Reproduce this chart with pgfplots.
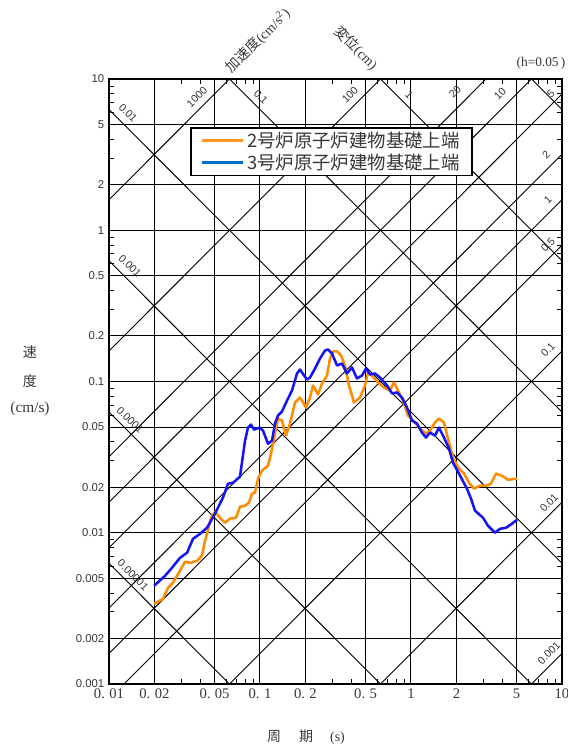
\documentclass[border=0pt]{standalone}
\usepackage{fontspec}
\setmainfont{Liberation Serif}
\newfontfamily\cjk{Noto Sans CJK JP}
\newfontfamily\lsans{Liberation Sans}
\usepackage{pgfplots}
\pgfplotsset{compat=1.18}
\definecolor{orng}{RGB}{255,140,0}
\definecolor{blu}{RGB}{20,20,245}
\definecolor{lorng}{RGB}{255,150,40}
\definecolor{lblu}{RGB}{0,110,200}
\definecolor{txt}{RGB}{55,55,55}
\begin{document}
\begin{tikzpicture}
\begin{loglogaxis}[
  scale only axis, width=339.75pt, height=453.75pt,
  xmin=0.01, xmax=10, ymin=0.001, ymax=10,
  clip mode=individual,
  xtick={0.01,0.02,0.05,0.1,0.2,0.5,1,2,5,10},
  xticklabels={0.\hspace{0.3em}01,0.\hspace{0.3em}02,0.\hspace{0.3em}05,0.\hspace{0.3em}1,0.\hspace{0.3em}2,0.\hspace{0.3em}5,1,2,5,10},
  minor xtick={0.03,0.04,0.06,0.07,0.08,0.09,0.3,0.4,0.6,0.7,0.8,0.9,3,4,6,7,8,9},
  ytick={0.001,0.002,0.005,0.01,0.02,0.05,0.1,0.2,0.5,1,2,5,10},
  yticklabels={0.001,0.002,0.005,0.01,0.02,0.05,0.1,0.2,0.5,1,2,5,10},
  minor ytick={0.003,0.004,0.006,0.007,0.008,0.009,0.03,0.04,0.06,0.07,0.08,0.09,0.3,0.4,0.6,0.7,0.8,0.9,3,4,6,7,8,9},
  major tick length=0pt, minor tick length=4pt, tick align=inside,
  tick style={black, line width=0.6pt},
  grid=major, major grid style={black, line width=0.75pt},
  axis line style={black, line width=1.1pt},
  xticklabel style={font=\fontsize{11}{12}\selectfont, text=txt},
  yticklabel style={font=\lsans\fontsize{8.5}{10}\selectfont, text=txt},
  legend style={at={(0.1788,0.9207)}, anchor=north west, draw=black, line width=1.3pt, fill=white,
    font=\cjk\fontsize{13.8}{16}\selectfont, text=txt, inner xsep=7pt, inner ysep=2.5pt, row sep=2.5pt,
    nodes={inner ysep=0.5pt, inner xsep=2pt}},
  legend cell align=left,
  legend image code/.code={\path[draw=none,fill=none] (0pt,-3pt) rectangle (31pt,3pt); \draw[#1] (0pt,0pt) -- (31pt,0pt);},
]
\coordinate (LL) at (rel axis cs:0,0);
\coordinate (UR) at (rel axis cs:1,1);
% displacement lines (slope -1)
\addplot[black, line width=0.7pt, forget plot] coordinates {(0.005,0.0125664) (20,3.1416e-6)};
\addplot[black, line width=0.7pt, forget plot] coordinates {(0.005,0.125664) (20,3.1416e-5)};
\addplot[black, line width=0.7pt, forget plot] coordinates {(0.005,1.25664) (20,3.1416e-4)};
\addplot[black, line width=0.7pt, forget plot] coordinates {(0.005,12.5664) (20,0.0031416)};
\addplot[black, line width=0.7pt, forget plot] coordinates {(0.005,125.664) (20,0.031416)};
\addplot[black, line width=0.7pt, forget plot] coordinates {(0.005,1256.64) (20,0.31416)};
\addplot[black, line width=0.7pt, forget plot] coordinates {(0.005,12566.4) (20,3.1416)};
% acceleration lines (slope +1)
\addplot[black, line width=0.7pt, forget plot] coordinates {(0.005,7.9577e-7) (20,0.0031831)};
\addplot[black, line width=0.7pt, forget plot] coordinates {(0.005,7.9577e-6) (20,0.031831)};
\addplot[black, line width=0.7pt, forget plot] coordinates {(0.005,7.9577e-5) (20,0.31831)};
\addplot[black, line width=0.7pt, forget plot] coordinates {(0.005,3.9789e-4) (20,1.59155)};
\addplot[black, line width=0.7pt, forget plot] coordinates {(0.005,7.9577e-4) (20,3.1831)};
\addplot[black, line width=0.7pt, forget plot] coordinates {(0.005,1.59155e-3) (20,6.3662)};
\addplot[black, line width=0.7pt, forget plot] coordinates {(0.005,3.9789e-3) (20,15.9155)};
\addplot[black, line width=0.7pt, forget plot] coordinates {(0.005,7.9577e-3) (20,31.831)};
\addplot[black, line width=0.7pt, forget plot] coordinates {(0.005,0.0159155) (20,63.662)};
\addplot[black, line width=0.7pt, forget plot] coordinates {(0.005,0.079577) (20,318.31)};
\addplot[black, line width=0.7pt, forget plot] coordinates {(0.005,0.79577) (20,3183.1)};
% data
\addplot[orng, line width=1.9pt, line join=round, forget plot] coordinates {
(0.0199,0.00339) (0.0228,0.00366) (0.0246,0.00433) (0.0265,0.00467) (0.0295,0.00560)
(0.0319,0.00643) (0.0349,0.00633) (0.0383,0.00653) (0.0413,0.00705) (0.0432,0.00885)
(0.0446,0.00984) (0.0474,0.01257) (0.0504,0.01377) (0.0543,0.01257) (0.0586,0.01164)
(0.0633,0.01239) (0.0694,0.01257) (0.0737,0.01486) (0.0796,0.01510) (0.0846,0.01581)
(0.0885,0.01811) (0.0927,0.01841) (0.0970,0.0228) (0.1031,0.02576) (0.1130,0.0278)
(0.1183,0.0333) (0.1257,0.0453) (0.1316,0.0569) (0.1398,0.0552) (0.1487,0.0439)
(0.1580,0.0527) (0.1705,0.0726) (0.1841,0.0783) (0.2017,0.0673) (0.2143,0.0783)
(0.2244,0.0941) (0.2422,0.0820) (0.2574,0.0970) (0.2778,0.1096) (0.2908,0.1419)
(0.3044,0.1581) (0.3236,0.1581) (0.3439,0.1486) (0.3656,0.1276) (0.3885,0.0941)
(0.4193,0.0726) (0.4596,0.0783) (0.4959,0.0941) (0.5192,0.1147) (0.5516,0.1096)
(0.6046,0.0985) (0.6625,0.0912) (0.7262,0.0871) (0.7718,0.0985) (0.8203,0.0871)
(0.8851,0.0748) (0.9553,0.0596) (1.047,0.0543) (1.147,0.0489) (1.2567,0.0453)
(1.336,0.0473) (1.441,0.0535) (1.532,0.0569) (1.654,0.0535) (1.758,0.0420)
(1.897,0.0314) (2.079,0.0265) (2.244,0.0246) (2.422,0.0214) (2.614,0.01956)
(2.864,0.0205) (3.186,0.0205) (3.386,0.0211) (3.656,0.0246) (4.006,0.0238)
(4.390,0.0224) (5.035,0.0228)};
\addplot[blu, line width=1.9pt, line join=round, forget plot] coordinates {
(0.0199,0.00446) (0.0235,0.00519) (0.0261,0.00586) (0.0295,0.00682) (0.0329,0.00738)
(0.0360,0.00912) (0.0401,0.00984) (0.0446,0.0108) (0.0504,0.0134) (0.0569,0.0171)
(0.0614,0.0211) (0.0663,0.0214) (0.0737,0.0235) (0.0796,0.0406) (0.0833,0.0496)
(0.0872,0.0519) (0.0913,0.0481) (0.100,0.0496) (0.1047,0.0473) (0.1130,0.0388)
(0.1201,0.0406) (0.1257,0.0527) (0.1316,0.0596) (0.1398,0.0633) (0.1510,0.0748)
(0.1629,0.0871) (0.1758,0.1130) (0.1841,0.1200) (0.1897,0.1147) (0.2048,0.1031)
(0.2143,0.1062) (0.2314,0.1219) (0.2497,0.1419) (0.2695,0.1603) (0.2821,0.1629)
(0.2998,0.1531) (0.3236,0.1276) (0.3491,0.1315) (0.3769,0.1130) (0.4068,0.1239)
(0.4390,0.1047) (0.4738,0.1096) (0.5035,0.1219) (0.5352,0.1112) (0.5777,0.1130)
(0.6233,0.1062) (0.6936,0.0941) (0.7486,0.0834) (0.8079,0.0846) (0.8719,0.0783)
(0.9408,0.0673) (1.0153,0.0552) (1.0958,0.0527) (1.1825,0.0459) (1.2567,0.0426)
(1.336,0.0459) (1.441,0.0439) (1.532,0.0496) (1.654,0.0426) (1.785,0.0360)
(1.897,0.0291) (2.079,0.0246) (2.349,0.01956) (2.497,0.01679) (2.654,0.0140)
(2.998,0.01257) (3.236,0.01112) (3.600,0.0100) (3.885,0.01062) (4.257,0.01079)
(4.667,0.01148) (5.035,0.01219)};
\addlegendimage{lorng, line width=2.2pt}
\addlegendentry{2号炉原子炉建物基礎上端}
\addlegendimage{lblu, line width=2.2pt}
\addlegendentry{3号炉原子炉建物基礎上端}
% diagonal scale labels
\tikzset{sdl/.style={rotate=-45, font=\lsans\fontsize{8}{9}\selectfont, text=txt, inner sep=0pt},
         sal/.style={rotate=45, font=\lsans\fontsize{8}{9}\selectfont, text=txt, inner sep=0pt}}
\node[sdl] at (rel axis cs:0.0419,0.9438) {0.01};
\node[sdl] at (rel axis cs:0.0464,0.6909) {0.001};
\node[sdl] at (rel axis cs:0.0464,0.4364) {0.0001};
\node[sdl] at (rel axis cs:0.0530,0.1802) {0.00001};
\node[sdl] at (rel axis cs:0.3355,0.9702) {0.1};
\node[sdl] at (rel axis cs:0.6623,0.9736) {1};
\node[sal] at (rel axis cs:0.1943,0.9702) {1000};
\node[sal] at (rel axis cs:0.5320,0.9736) {100};
\node[sal] at (rel axis cs:0.7638,0.9785) {20};
\node[sal] at (rel axis cs:0.8631,0.9752) {10};
\node[sal] at (rel axis cs:0.9757,0.9752) {5};
\node[sal] at (rel axis cs:0.9647,0.8744) {2};
\node[sal] at (rel axis cs:0.9691,0.8000) {1};
\node[sal] at (rel axis cs:0.9691,0.7256) {0.5};
\node[sal] at (rel axis cs:0.9691,0.5521) {0.1};
\node[sal] at (rel axis cs:0.9713,0.2992) {0.01};
\node[sal] at (rel axis cs:0.9713,0.0512) {0.001};
% titles
\node[rotate=45, font=\fontsize{10.5}{12}\selectfont, text=txt] at (rel axis cs:0.329,1.063) {{\cjk 加速度}(cm/s\textsuperscript{2})};
\node[rotate=-45, font=\fontsize{10.5}{12}\selectfont, text=txt] at (rel axis cs:0.545,1.051) {{\cjk 変位}(cm)};
\node[font=\fontsize{10}{12}\selectfont, text=txt] at (rel axis cs:0.9536,1.0264) {(h=0.05\,)};
\node[font=\cjk\fontsize{10.5}{12}\selectfont, text=txt] at (rel axis cs:-0.1744,0.5488) {速};
\node[font=\cjk\fontsize{10.5}{12}\selectfont, text=txt] at (rel axis cs:-0.1744,0.5008) {度};
\node[font=\fontsize{11.5}{12}\selectfont, text=txt] at (rel axis cs:-0.1744,0.4545) {(cm/s)};
\node[font=\fontsize{10.5}{12}\selectfont, text=txt] at (rel axis cs:0.4349,-0.0876) {{\cjk 周}\hspace{13.5pt}{\cjk 期}\hspace{12.75pt}(s)};
\end{loglogaxis}
\pgfresetboundingbox
\path[use as bounding box] ([xshift=-81.75pt,yshift=-47.25pt]LL) rectangle ([xshift=4.5pt,yshift=59.25pt]UR);
\end{tikzpicture}
\end{document}
